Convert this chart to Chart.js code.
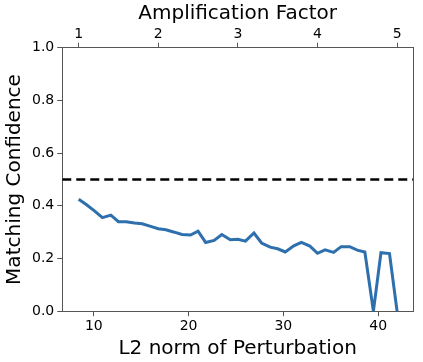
<!DOCTYPE html>
<html>
<head>
<meta charset="utf-8">
<script src="https://cdn.jsdelivr.net/npm/chart.js@4.4.0/dist/chart.umd.min.js"></script>
<style>
  body { margin: 0; background: #fff; }
  canvas { display: block; }
</style>
</head>
<body>
<canvas id="chart" width="423" height="362"></canvas>
<script>
// L2 norm of the perturbation for each run (amplification 1.0 .. 5.0)
const l2Norms = [8.4, 9.2, 10.1, 10.9, 11.8, 12.6, 13.4, 14.3, 15.1, 16.0,
  16.8, 17.6, 18.5, 19.3, 20.2, 21.0, 21.8, 22.7, 23.5, 24.4,
  25.2, 26.0, 26.9, 27.7, 28.6, 29.4, 30.2, 31.1, 31.9, 32.8,
  33.6, 34.4, 35.3, 36.1, 37.0, 37.8, 38.6, 39.5, 40.3, 41.2, 42.0];
const confidence = [0.425, 0.405, 0.38, 0.355, 0.365, 0.34, 0.34, 0.335, 0.332, 0.322,
  0.313, 0.309, 0.30, 0.291, 0.289, 0.304, 0.261, 0.269, 0.291, 0.271,
  0.273, 0.266, 0.297, 0.259, 0.243, 0.237, 0.225, 0.248, 0.261, 0.247,
  0.22, 0.233, 0.223, 0.245, 0.245, 0.232, 0.225, 0, 0.222, 0.219, 0];
const threshold = 0.5;
const xRange = [6.67, 43.68];       // L2 axis limits
const ampRange = [0.794, 5.2];      // amplification axis limits (same span)
const yTicks = [0, 0.2, 0.4, 0.6, 0.8, 1.0];

const font = { family: 'DejaVu Sans', size: 14 };
const titleFont = { family: 'DejaVu Sans', size: 20 };
const spine = '#555';

const ctx = document.getElementById('chart').getContext('2d');
const chart = new Chart(ctx, {
  type: 'line',
  data: {
    datasets: [{
      label: 'confidence',
      data: l2Norms.map((x, i) => ({ x: x, y: confidence[i] })),
      borderColor: '#2e6fad',
      borderWidth: 3,
      pointRadius: 0,
      tension: 0,
      fill: false
    }, {
      label: 'threshold',
      data: xRange.map(x => ({ x: x, y: threshold })),
      borderColor: '#000',
      borderWidth: 2.5,
      borderDash: [9, 5],
      pointRadius: 0,
      fill: false
    }]
  },
  options: {
    responsive: false,
    animation: false,
    layout: { padding: { left: 3, right: 10, top: 2, bottom: 1 } },
    plugins: { legend: { display: false }, tooltip: { enabled: false } },
    scales: {
      x: {
        type: 'linear',
        position: 'bottom',
        min: xRange[0],
        max: xRange[1],
        ticks: { stepSize: 10, includeBounds: false, color: '#000', font: font, padding: 2,
          callback: v => v.toString() },
        grid: { display: true, drawOnChartArea: false, drawTicks: true, tickLength: 5, color: spine },
        border: { display: true, color: spine, width: 1 },
        title: { display: true, text: 'L2 norm of Perturbation', color: '#000', font: titleFont, padding: { top: 0, bottom: 0 } }
      },
      x2: {
        type: 'linear',
        position: 'top',
        min: ampRange[0],
        max: ampRange[1],
        ticks: { stepSize: 1, includeBounds: false, color: '#000', font: font, padding: 0,
          callback: v => v.toString() },
        grid: { display: true, drawOnChartArea: false, drawTicks: true, tickLength: 5, color: spine },
        border: { display: true, color: spine, width: 1 },
        title: { display: true, text: 'Amplification Factor', color: '#000', font: titleFont, padding: { top: 0, bottom: 0 } }
      },
      y: {
        type: 'linear',
        position: 'left',
        min: 0,
        max: 1,
        afterBuildTicks: axis => { axis.ticks = yTicks.map(v => ({ value: v })); },
        ticks: { color: '#000', font: font, padding: 3, callback: v => v.toFixed(1) },
        grid: { display: true, drawOnChartArea: false, drawTicks: true, tickLength: 5, color: spine },
        border: { display: true, color: spine, width: 1 },
        title: { display: true, text: 'Matching Confidence', color: '#000', font: titleFont, padding: { top: 0, bottom: 2 } }
      },
      yRight: {
        type: 'linear',
        position: 'right',
        min: 0,
        max: 1,
        ticks: { display: false },
        grid: { display: false, drawTicks: false },
        border: { display: true, color: spine, width: 1 }
      }
    }
  }
});
</script>
</body>
</html>
